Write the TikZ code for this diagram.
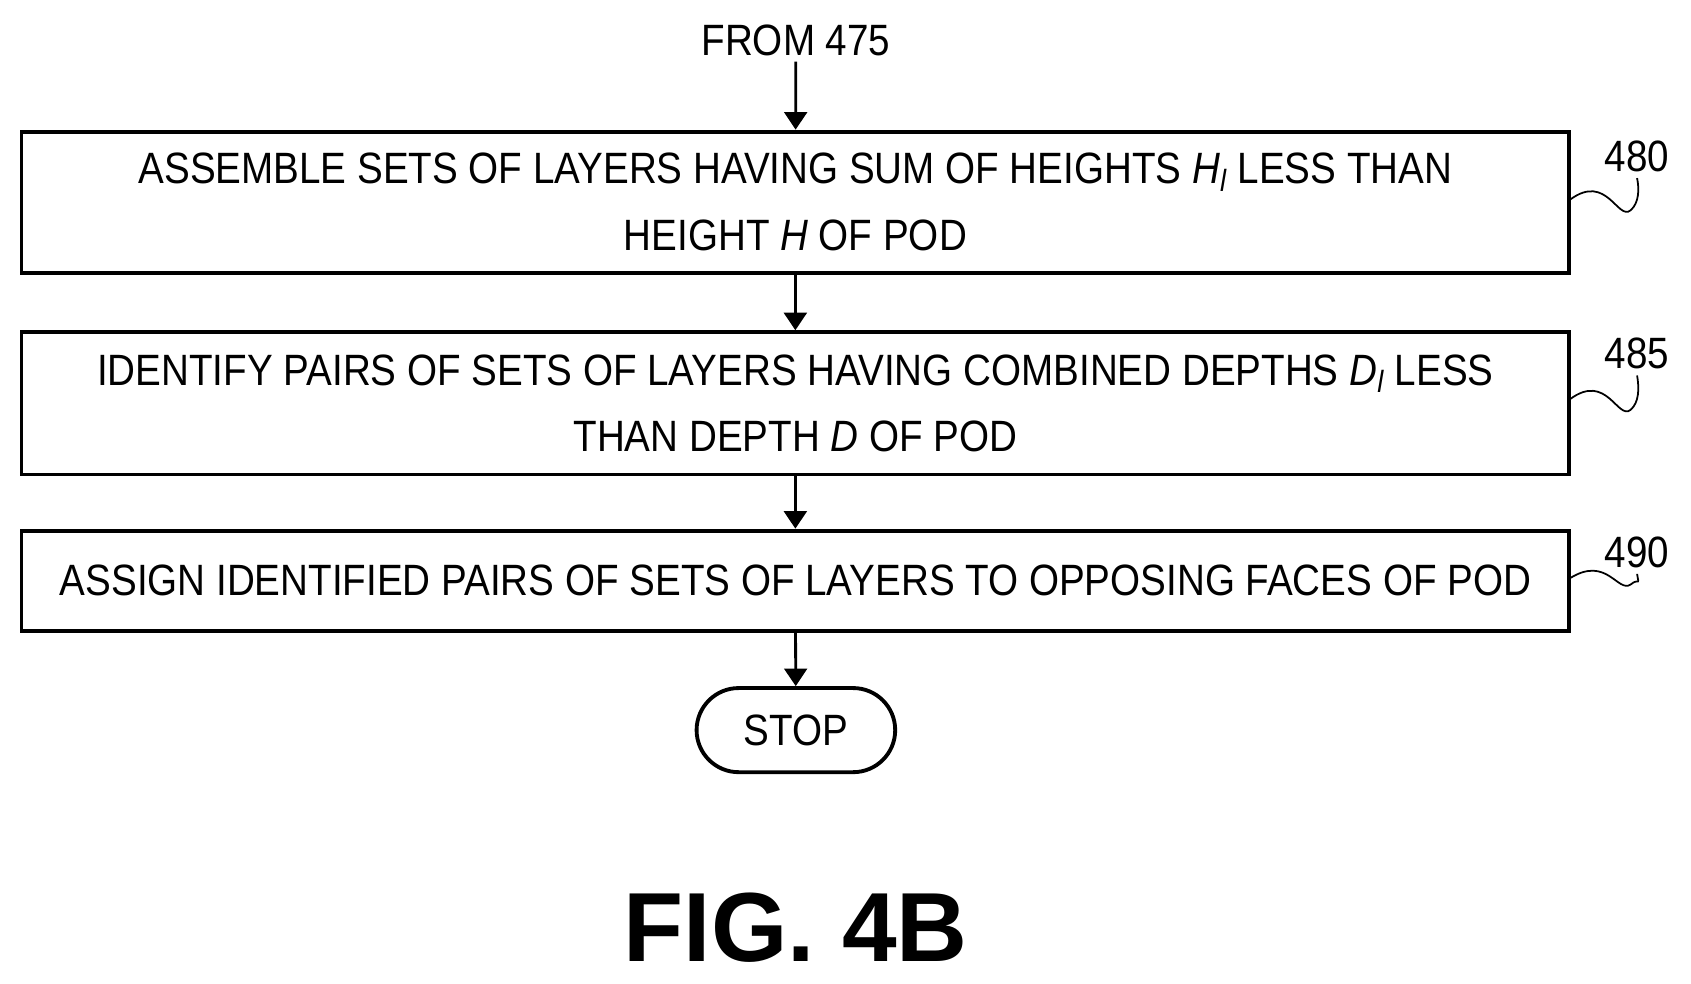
\documentclass[tikz,border=0pt]{standalone}
\usepackage{fontspec}
\setmainfont[FakeStretch=0.88]{Liberation Sans}
\newfontfamily\figfont{Liberation Sans}
\usetikzlibrary{arrows.meta,shapes.misc}
\tikzset{
  box/.style={draw,line width=2.2pt,minimum width={1435*0.0216cm},inner sep=0pt,align=center,font=\fontsize{25}{38}\selectfont},
  arr/.style={line width=1.6pt,-{Triangle[length=10pt,width=13pt]}},
  lbl/.style={font=\fontsize{25}{30}\selectfont},
  sq/.style={line width=1pt}
}
\begin{document}
\begin{tikzpicture}[x=0.0216cm,y=-0.0216cm]
\useasboundingbox (0,0) rectangle (1568,912);
\node[lbl] (from) at (738,37) {FROM 475};
\node[box,minimum height={131*0.0216cm}] (b1) at (737.5,187.5) {ASSEMBLE SETS OF LAYERS HAVING SUM OF HEIGHTS \textit{H\textsubscript{l}} LESS THAN\\HEIGHT \textit{H} OF POD};
\node[box,minimum height={132*0.0216cm}] (b2) at (737.5,374) {IDENTIFY PAIRS OF SETS OF LAYERS HAVING COMBINED DEPTHS \textit{D\textsubscript{l}} LESS\\THAN DEPTH \textit{D} OF POD};
\node[box,minimum height={93*0.0216cm}] (b3) at (737.5,538.5) {ASSIGN IDENTIFIED PAIRS OF SETS OF LAYERS TO OPPOSING FACES OF POD};
\node[draw,line width=2.2pt,rounded rectangle,minimum width={195*0.0216cm},minimum height={78*0.0216cm},lbl] (stop) at (738,677) {STOP};
\node[font=\figfont\bfseries\fontsize{56}{66}\selectfont] (fig) at (738,860) {FIG. 4B};
\draw[arr] (from) -- (b1);
\draw[arr] (b1) -- (b2);
\draw[arr] (b2) -- (b3);
\draw[arr] (b3) -- (stop);
\node[lbl] (l1) at (1518,145) {480};
\node[lbl] (l2) at (1518,328) {485};
\node[lbl] (l3) at (1518,512) {490};
\draw[sq] (1456,185) .. controls (1490,160) and (1500,205) .. (1512,195) .. controls (1520,188) and (1520,175) .. (l1.south);
\draw[sq] (1456,370) .. controls (1490,345) and (1500,390) .. (1512,380) .. controls (1520,373) and (1520,360) .. (l2.south);
\draw[sq] (1456,536) .. controls (1490,515) and (1500,550) .. (1512,542) .. controls (1520,535) and (1520,545) .. (l3.south);
\end{tikzpicture}
\end{document}
